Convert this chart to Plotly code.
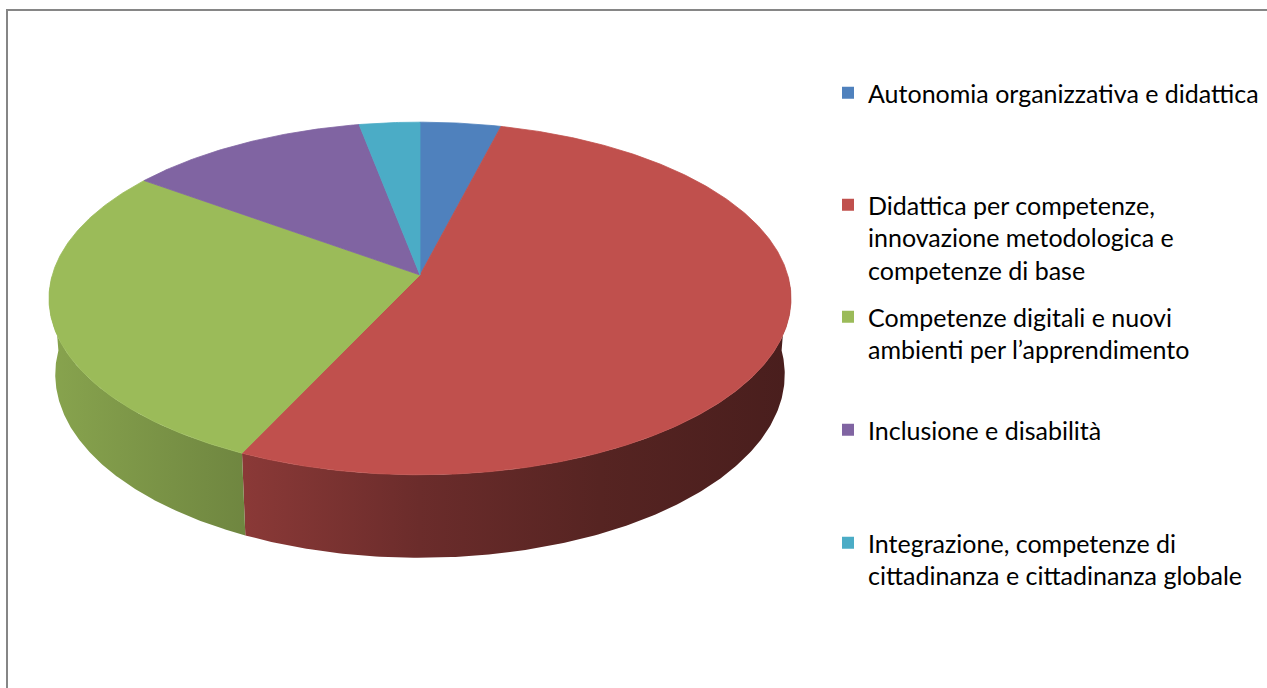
import numpy as np
import plotly.graph_objects as go

# ---------------- data ----------------
categories = [
    "Autonomia organizzativa e didattica",
    "Didattica per competenze,<br>innovazione metodologica e<br>competenze di base",
    "Competenze digitali e nuovi<br>ambienti per l’apprendimento",
    "Inclusione e disabilità",
    "Integrazione, competenze di<br>cittadinanza e cittadinanza globale",
]
values = [4, 53, 28, 12, 3]
colors = ["#4F81BD", "#C0504D", "#9BBB59", "#8064A2", "#4BACC6"]

# ---------------- geometry (pixel-space canvas) ----------------
W, H = 1267, 688
CX, CY = 420.0, 275.0          # projected pie centre
F = 2436.0                      # focal length
L = 6.625                       # camera distance (in pie radii)
ELEV = np.radians(28.1)         # camera elevation
DEPTH = 0.2365                  # pie thickness (in pie radii)


def project(t, z):
    """t: angle clockwise from 12 o'clock (radians); z: 0 top face, -DEPTH bottom."""
    u = np.sin(t)
    v = np.cos(t)
    d = v * np.cos(ELEV) + L - z * np.sin(ELEV)
    up = v * np.sin(ELEV) + z * np.cos(ELEV)
    return CX + F * u / d, CY - F * up / d


def shade(hex_color, f):
    h = hex_color.lstrip("#")
    r, g, b = (int(h[i:i + 2], 16) for i in (0, 2, 4))
    return f"rgb({int(r * f)},{int(g * f)},{int(b * f)})"


total = float(sum(values))
fracs = np.array(values) / total
starts = np.concatenate([[0], np.cumsum(fracs)[:-1]]) * 2 * np.pi
ends = np.cumsum(fracs) * 2 * np.pi

fig = go.Figure()

# side walls (front half only)
X_LEFT, X_RIGHT = 47.0, 791.0
grad_pos = [0.0, 0.266, 0.501, 0.743, 1.0]
grad_fac = [0.88, 0.72, 0.56, 0.45, 0.385]
for cat, s, e, col in zip(categories, starts, ends, colors):
    a0 = max(s, np.pi / 2)
    a1 = min(e, 3 * np.pi / 2)
    if a1 <= a0:
        continue
    t = np.linspace(a0, a1, 200)
    xt, yt = project(t, 0.0)
    xb, yb = project(t[::-1], -DEPTH)
    xs = np.concatenate([xt, xb, xt[:1]])
    ys = np.concatenate([yt, yb, yt[:1]])
    fig.add_trace(go.Scatter(
        x=xs, y=ys, mode="lines", fill="toself",
        line=dict(width=0, color=shade(col, 0.6)),
        fillgradient=dict(
            type="horizontal", start=X_LEFT, stop=X_RIGHT,
            colorscale=[[p, shade(col, f)] for p, f in zip(grad_pos, grad_fac)],
        ),
        hoverinfo="skip", showlegend=False,
    ))

# top faces
for cat, v, s, e, col in zip(categories, values, starts, ends, colors):
    n = max(int((e - s) / (2 * np.pi) * 720), 8)
    t = np.linspace(s, e, n)
    xa, ya = project(t, 0.0)
    xs = np.concatenate([[CX], xa, [CX]])
    ys = np.concatenate([[CY], ya, [CY]])
    fig.add_trace(go.Scatter(
        x=xs, y=ys, mode="lines", fill="toself", fillcolor=col,
        line=dict(width=0.8, color=col),
        name=cat.replace("<br>", " "), hoverinfo="name+text",
        text=[f"{v}"] * len(xs), showlegend=False,
    ))

# legend entries (one legend per entry, like Excel's spread-out legend)
first_line_y = [95, 207, 319, 432, 545]
legend_names = ["legend", "legend2", "legend3", "legend4", "legend5"]
layout_legends = {}
for cat, col, ly, lname in zip(categories, colors, first_line_y, legend_names):
    fig.add_trace(go.Scatter(
        x=[None], y=[None], mode="markers",
        marker=dict(symbol="square", size=12, color=col),
        name=cat, legend=lname, showlegend=True,
    ))
    layout_legends[lname] = dict(
        x=828 / W, xanchor="left",
        y=1 - (ly - 25) / H, yanchor="top",
        valign="top",
        bgcolor="rgba(0,0,0,0)", borderwidth=0,
        font=dict(family="Lato, 'Open Sans', sans-serif", size=25, color="#000000"),
        itemclick=False, itemdoubleclick=False,
    )

fig.update_layout(
    width=W, height=H,
    margin=dict(l=0, r=0, t=0, b=0),
    paper_bgcolor="white", plot_bgcolor="white",
    xaxis=dict(range=[0, W], visible=False, fixedrange=True),
    yaxis=dict(range=[H, 0], visible=False, fixedrange=True),
    shapes=[dict(type="rect", xref="x", yref="y", x0=7, y0=10, x1=W + 40, y1=H + 40,
                 line=dict(color="#868686", width=2), fillcolor="rgba(0,0,0,0)",
                 layer="above")],
    **layout_legends,
)

fig.write_html(
    "out.html",
    config={"displayModeBar": False},
    post_script="document.body.style.margin='0';document.body.style.overflow='hidden';",
)
